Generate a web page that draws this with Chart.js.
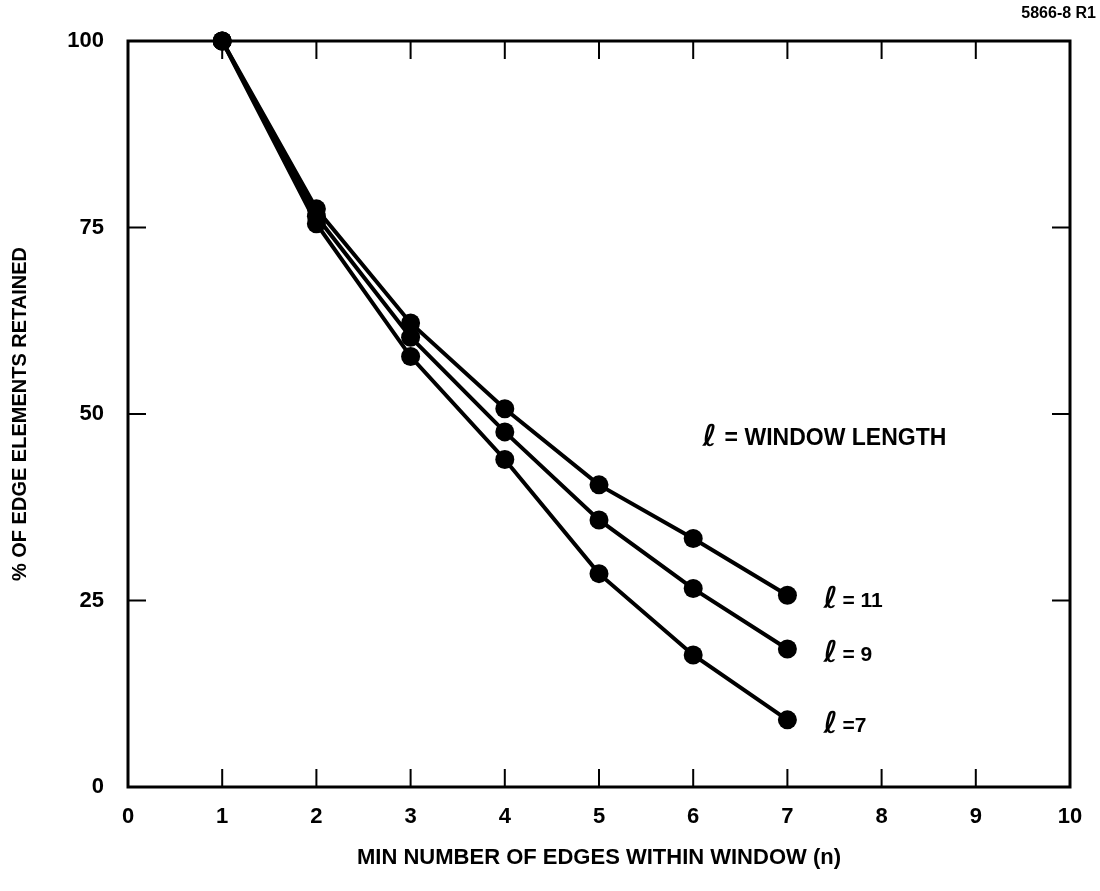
<!DOCTYPE html>
<html>
<head>
<meta charset="utf-8">
<script src="https://cdn.jsdelivr.net/npm/chart.js@4"></script>
<style>
  html, body { margin: 0; padding: 0; background: #fff; }
  #wrap { width: 1100px; height: 891px; position: relative; }
</style>
</head>
<body>
<div id="wrap"><canvas id="edgeChart"></canvas></div>
<script>
// data
const nValues = [1, 2, 3, 4, 5, 6, 7];
const retained11 = [100, 77.5, 62.2, 50.7, 40.5, 33.3, 25.7];
const retained9 = [100, 76.5, 60.3, 47.6, 35.8, 26.6, 18.5];
const retained7 = [100, 75.5, 57.7, 43.9, 28.6, 17.7, 9.0];
const seriesNames = ['= 11', '= 9', '=7'];
const xTicks = [0, 1, 2, 3, 4, 5, 6, 7, 8, 9, 10];
const yTicks = [0, 25, 50, 75, 100];

const FONT = '"Liberation Sans", Arial, sans-serif';
const ELL_FONT = 'bold italic 30px "DejaVu Sans", serif';

function toPoints(ys) {
    return nValues.map((n, i) => ({ x: n, y: ys[i] }));
}

// frame, inward ticks and the curve labels
const framePlugin = {
    id: 'frame',
    beforeDatasetsDraw(chart) {
        const { ctx, chartArea: a, scales } = chart;
        ctx.save();
        ctx.strokeStyle = '#000';
        ctx.lineWidth = 3;
        ctx.strokeRect(a.left, a.top, a.right - a.left, a.bottom - a.top);
        ctx.lineWidth = 2;
        ctx.beginPath();
        xTicks.slice(1, -1).forEach(v => {
            const px = scales.x.getPixelForValue(v);
            ctx.moveTo(px, a.bottom); ctx.lineTo(px, a.bottom - 18);
            ctx.moveTo(px, a.top); ctx.lineTo(px, a.top + 18);
        });
        yTicks.slice(1, -1).forEach(v => {
            const py = scales.y.getPixelForValue(v);
            ctx.moveTo(a.left, py); ctx.lineTo(a.left + 18, py);
            ctx.moveTo(a.right, py); ctx.lineTo(a.right - 18, py);
        });
        ctx.stroke();
        ctx.restore();
    },
    afterDraw(chart) {
        const { ctx, scales } = chart;
        ctx.save();
        ctx.fillStyle = '#000';
        ctx.textBaseline = 'middle';
        // labels beside the last point of each curve
        chart.data.datasets.forEach((ds, i) => {
            const last = ds.data[ds.data.length - 1];
            const px = scales.x.getPixelForValue(last.x) + 36;
            const py = scales.y.getPixelForValue(last.y) + 5;
            ctx.font = ELL_FONT;
            ctx.fillText('ℓ', px, py);
            ctx.font = 'bold 21px ' + FONT;
            ctx.fillText(seriesNames[i], px + 19, py + 1);
        });
        // key
        const kx = scales.x.getPixelForValue(6.1);
        const ky = scales.y.getPixelForValue(46.8);
        ctx.font = ELL_FONT;
        ctx.fillText('ℓ', kx, ky);
        ctx.font = 'bold 23px ' + FONT;
        ctx.fillText('= WINDOW LENGTH', kx + 22, ky + 1);
        // figure number
        ctx.font = 'bold 16px ' + FONT;
        ctx.textAlign = 'right';
        ctx.fillText('5866-8 R1', 1096, 14);
        ctx.restore();
    }
};

const baseSet = {
    borderColor: '#000',
    backgroundColor: '#000',
    borderWidth: 4,
    pointRadius: 9.5,
    pointHoverRadius: 9.5,
    pointBackgroundColor: '#000',
    pointBorderWidth: 0,
    tension: 0,
    clip: false
};

new Chart(document.getElementById('edgeChart'), {
    type: 'line',
    data: {
        datasets: [
            Object.assign({ label: 'l = 11', data: toPoints(retained11) }, baseSet),
            Object.assign({ label: 'l = 9', data: toPoints(retained9) }, baseSet),
            Object.assign({ label: 'l = 7', data: toPoints(retained7) }, baseSet)
        ]
    },
    options: {
        responsive: true,
        maintainAspectRatio: false,
        animation: false,
        layout: { padding: { top: 41, right: 30, left: 0, bottom: 0 } },
        plugins: {
            legend: { display: false },
            tooltip: { enabled: false }
        },
        scales: {
            x: {
                type: 'linear',
                min: 0,
                max: 10,
                afterBuildTicks: s => { s.ticks = xTicks.map(v => ({ value: v })); },
                afterFit: s => { s.height = 104; },
                grid: { display: false },
                border: { display: false },
                ticks: {
                    color: '#000',
                    padding: 9,
                    maxRotation: 0,
                    font: { family: FONT, size: 22, weight: 'bold' }
                },
                title: {
                    display: true,
                    text: 'MIN NUMBER OF EDGES WITHIN WINDOW (n)',
                    color: '#000',
                    padding: { bottom: 20 },
                    font: { family: FONT, size: 22, weight: 'bold' }
                }
            },
            y: {
                min: 0,
                max: 100,
                afterBuildTicks: s => { s.ticks = yTicks.map(v => ({ value: v })); },
                afterFit: s => { s.width = 128; },
                grid: { display: false },
                border: { display: false },
                ticks: {
                    color: '#000',
                    padding: 16,
                    font: { family: FONT, size: 22, weight: 'bold' }
                },
                title: {
                    display: true,
                    text: '% OF EDGE ELEMENTS RETAINED',
                    color: '#000',
                    padding: { top: 8 },
                    font: { family: FONT, size: 20, weight: 'bold' }
                }
            }
        }
    },
    plugins: [framePlugin]
});
</script>
</body>
</html>
